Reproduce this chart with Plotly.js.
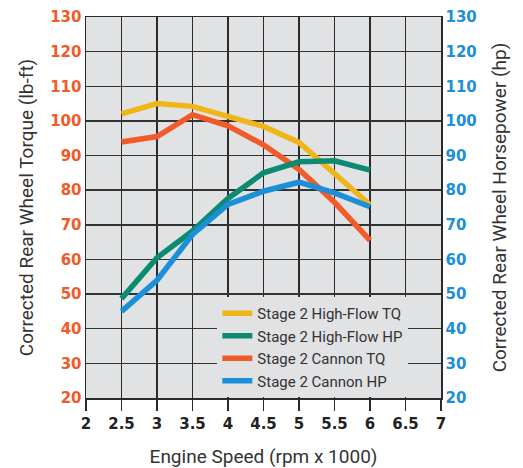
<!DOCTYPE html>
<html>
<head>
<meta charset="utf-8">
<script src="https://cdn.plot.ly/plotly-3.0.1.min.js"></script>
<style>html,body{margin:0;padding:0;background:#fff;}#chart{width:523px;height:468px;}</style>
</head>
<body>
<div id="chart"></div>
<script>
const rpm = [2.5, 3, 3.5, 4, 4.5, 5, 5.5, 6];
const highFlowTQ = [102, 105, 104.2, 101.1, 98.4, 93.8, 85, 75.8];
const highFlowHP = [48.7, 60.5, 68.2, 77.6, 85, 88.2, 88.5, 85.8];
const cannonTQ = [93.9, 95.5, 101.8, 98.6, 93.1, 86, 76.5, 65.5];
const cannonHP = [45, 54, 67.2, 75.9, 79.7, 82.3, 79.2, 75.2];
const seriesNames = ["Stage 2 High-Flow TQ", "Stage 2 High-Flow HP", "Stage 2 Cannon TQ", "Stage 2 Cannon HP"];
const xTicks = [2, 2.5, 3, 3.5, 4, 4.5, 5, 5.5, 6, 6.5, 7];
const yTicks = [20, 30, 40, 50, 60, 70, 80, 90, 100, 110, 120, 130];

const colors = {yellow: "#F0B619", green: "#0E8A73", orange: "#F15A29", blue: "#1B8FD7"};

const traces = [
  {x: rpm, y: highFlowTQ, name: seriesNames[0], yaxis: "y", color: colors.yellow},
  {x: rpm, y: highFlowHP, name: seriesNames[1], yaxis: "y2", color: colors.green},
  {x: rpm, y: cannonTQ, name: seriesNames[2], yaxis: "y", color: colors.orange},
  {x: rpm, y: cannonHP, name: seriesNames[3], yaxis: "y2", color: colors.blue}
].map(t => ({
  x: t.x, y: t.y, name: t.name, yaxis: t.yaxis, type: "scatter", mode: "lines",
  line: {color: t.color, width: 5.5}, hoverinfo: "skip"
}));

const tickFont = {family: "DejaVu Sans, sans-serif", size: 15, weight: 700};
const titleFont = {family: "Roboto, sans-serif", size: 19, color: "#333"};

const layout = {
  width: 523, height: 468,
  margin: {l: 86, r: 82, t: 17, b: 70},
  paper_bgcolor: "#fff",
  plot_bgcolor: "#E1E2E4",
  showlegend: true,
  legend: {
    x: 0.37, y: 0.265, xanchor: "left", yanchor: "top",
    bgcolor: "#E1E2E4", borderwidth: 0,
    font: {family: "Roboto, sans-serif", size: 15, color: "#333"},
    tracegroupgap: 0, itemwidth: 30
  },
  xaxis: {
    range: [2, 7], tickvals: xTicks, ticktext: xTicks.map(String),
    showgrid: true, gridcolor: "#2b2b2b", gridwidth: 1.5,
    showline: true, linecolor: "#2b2b2b", linewidth: 1.5, mirror: true,
    ticks: "outside", ticklen: 11, tickwidth: 1.5, tickcolor: "#2b2b2b",
    tickfont: Object.assign({}, tickFont, {color: "#222"}),
    zeroline: false, fixedrange: true,
    title: {text: "Engine Speed (rpm x 1000)", font: titleFont, standoff: 18}
  },
  yaxis: {
    range: [20, 130], tickvals: yTicks,
    showgrid: true, gridcolor: "#333", gridwidth: 1.5,
    showline: true, linecolor: "#2b2b2b", linewidth: 1.5,
    ticks: "", zeroline: false, fixedrange: true,
    tickfont: Object.assign({}, tickFont, {color: colors.orange}),
    title: {text: "Corrected Rear Wheel Torque (lb-ft)", font: titleFont, standoff: 11}
  },
  yaxis2: {
    range: [20, 130], tickvals: yTicks, overlaying: "y", side: "right",
    showgrid: false, showline: true, linecolor: "#2b2b2b", linewidth: 1.5,
    ticks: "", zeroline: false, fixedrange: true,
    tickfont: Object.assign({}, tickFont, {color: colors.blue}),
    title: {text: "Corrected Rear Wheel Horsepower (hp)", font: titleFont, standoff: 17}
  }
};

Plotly.newPlot("chart", traces, layout, {displayModeBar: false, staticPlot: true});
</script>
</body>
</html>
